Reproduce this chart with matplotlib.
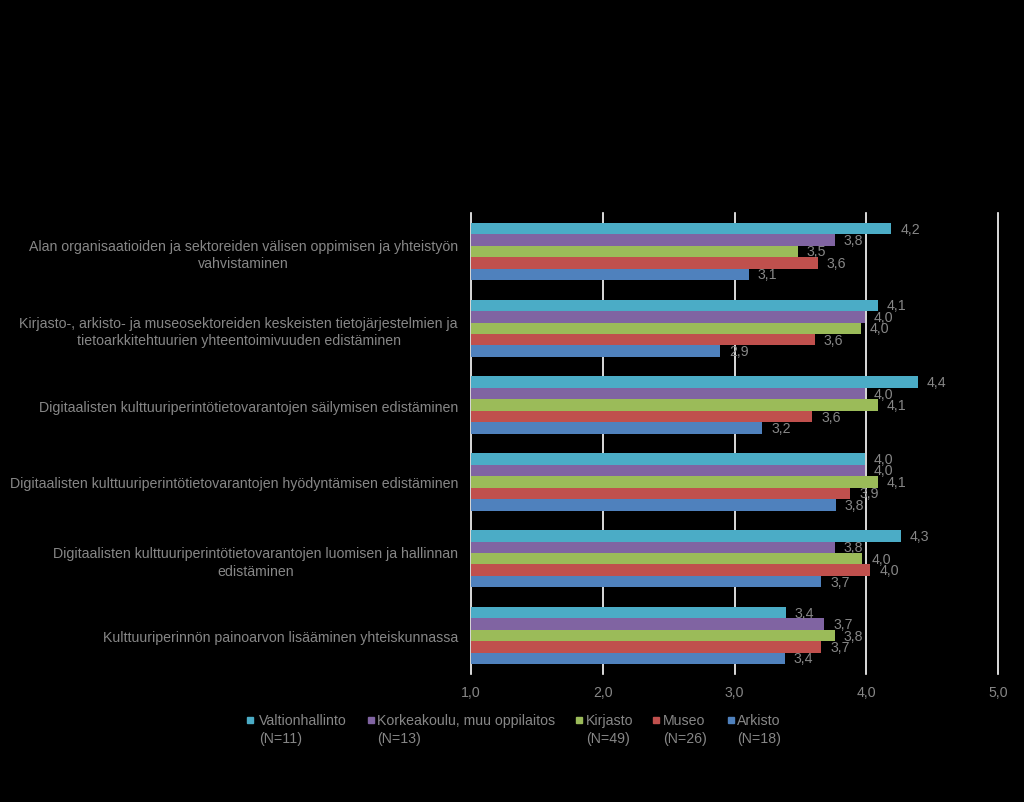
import matplotlib
matplotlib.use("Agg")
import matplotlib.pyplot as plt
from matplotlib.patches import Rectangle
import numpy as np

plt.rcParams['font.family'] = ['Liberation Sans', 'DejaVu Sans']

categories = [
    "Alan organisaatioiden ja sektoreiden välisen oppimisen ja yhteistyön\nvahvistaminen",
    "Kirjasto-, arkisto- ja museosektoreiden keskeisten tietojärjestelmien ja\ntietoarkkitehtuurien yhteentoimivuuden edistäminen",
    "Digitaalisten kulttuuriperintötietovarantojen säilymisen edistäminen",
    "Digitaalisten kulttuuriperintötietovarantojen hyödyntämisen edistäminen",
    "Digitaalisten kulttuuriperintötietovarantojen luomisen ja hallinnan\nedistäminen",
    "Kulttuuriperinnön painoarvon lisääminen yhteiskunnassa",
]

series_names = ["Valtionhallinto", "Korkeakoulu, muu oppilaitos", "Kirjasto", "Museo", "Arkisto"]
series_n = ["(N=11)", "(N=13)", "(N=49)", "(N=26)", "(N=18)"]

valtionhallinto = [4.19, 4.09, 4.39, 3.99, 4.26, 3.39]
korkeakoulu = [3.76, 3.99, 3.99, 3.99, 3.76, 3.68]
kirjasto = [3.48, 3.96, 4.09, 4.09, 3.97, 3.76]
museo = [3.63, 3.61, 3.59, 3.88, 4.03, 3.66]
arkisto = [3.11, 2.89, 3.21, 3.77, 3.66, 3.38]

colors = ["#4BACC6", "#8064A2", "#9BBB59", "#C0504D", "#4F81BD"]
grey = "#878787"
fs = 10.2

fig = plt.figure(figsize=(10.24, 8.03), dpi=100, facecolor="black")
ax = fig.add_axes([0.46, 0.1594, 0.5146, 0.5741], facecolor="black")

values = [valtionhallinto, korkeakoulu, kirjasto, museo, arkisto]
y = np.arange(len(categories))
h = 0.149
for i, (vals, c) in enumerate(zip(values, colors)):
    pos = y + (i - 2) * h
    bars = ax.barh(pos, vals, height=h, color=c, zorder=3)
    for b, v in zip(bars, vals):
        ax.annotate(f"{v:.1f}".replace(".", ","),
                    (b.get_width(), b.get_y() + b.get_height() / 2),
                    xytext=(9, 0), textcoords="offset pixels",
                    va="center", ha="left", color=grey, fontsize=fs, zorder=4)

ax.set_xlim(1, 5)
ax.set_ylim(len(categories) - 0.5, -0.5)
ax.set_xticks([1, 2, 3, 4, 5])
ax.set_xticklabels(["1,0", "2,0", "3,0", "4,0", "5,0"])
ax.set_yticks(y)
ax.set_yticklabels(categories, multialignment="center", linespacing=1.3)
ax.tick_params(axis="both", colors=grey, labelsize=fs, length=0)
ax.tick_params(axis="y", pad=9.4)
ax.tick_params(axis="x", pad=8)
ax.grid(axis="x", color="white", linewidth=1.2, zorder=0)
for gl in ax.get_xgridlines():
    gl.set_clip_on(False)
for s in ax.spines.values():
    s.set_visible(False)

# legend, drawn by hand to keep the two-line labels like the original
sq_x = [247, 368, 576, 653, 728]
txt_x = [259, 377, 586, 663, 737]
for sx, tx, c, name, n in zip(sq_x, txt_x, colors, series_names, series_n):
    fig.patches.append(Rectangle((sx / 1024, 1 - 724 / 803), 6 / 1024, 6 / 803,
                                 transform=fig.transFigure, color=c, figure=fig))
    fig.text(tx / 1024, 1 - 721 / 803, name, color=grey, fontsize=fs, va="center", ha="left")
    fig.text(tx / 1024, 1 - 739 / 803, n, color=grey, fontsize=fs, va="center", ha="left")

fig.savefig("out.png", dpi=100, facecolor="black")
